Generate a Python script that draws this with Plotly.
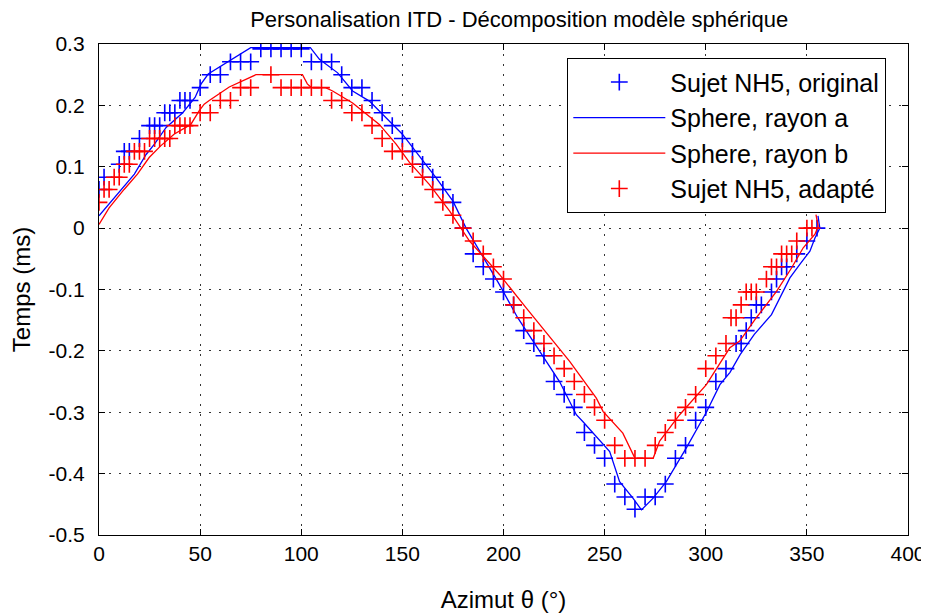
import plotly.graph_objects as go

# ---- data (azimuth in degrees, ITD in ms) ----
orig_az = [0, 2.5, 10, 12.5, 15, 20, 25, 27.5, 30, 32.5, 35, 37.5, 40, 42.5, 45,
           50, 55, 60, 65, 70, 75, 80, 85, 90, 95, 100, 105, 110, 115,
           120, 125, 130, 135, 140, 145, 150, 155, 160, 165, 170, 175, 180,
           185, 190, 195, 200, 205, 210, 215, 220, 225, 230, 235, 240, 245,
           250, 255, 260, 265, 270, 275, 280, 285, 290, 295, 300, 305, 310,
           315, 317.5, 320, 322.5, 325, 327.5, 332.5, 335, 337.5, 340, 345, 350, 355]
orig_itd = [0.063, 0.083, 0.104, 0.125, 0.125, 0.146, 0.167, 0.167, 0.167, 0.188, 0.188, 0.188, 0.208, 0.208, 0.208,
            0.229, 0.250, 0.250, 0.271, 0.271, 0.271, 0.292, 0.292, 0.292, 0.292, 0.292, 0.271, 0.271, 0.271,
            0.250, 0.229, 0.229, 0.208, 0.188, 0.167, 0.146, 0.125, 0.104, 0.083, 0.063, 0.042, 0.0,
            -0.042, -0.063, -0.083, -0.104, -0.125, -0.167, -0.188, -0.208, -0.250, -0.271, -0.292, -0.333, -0.354,
            -0.375, -0.417, -0.438, -0.458, -0.438, -0.438, -0.417, -0.375, -0.354, -0.313, -0.292, -0.250, -0.229,
            -0.188, -0.188, -0.167, -0.146, -0.125, -0.125, -0.104, -0.083, -0.063, -0.063, -0.042, -0.021, 0.0]

adapt_az = [0, 2.5, 5, 7.5, 10, 12.5, 15, 17.5, 20, 22.5, 25, 27.5, 30, 32.5, 35, 37.5, 40, 42.5, 45,
            50, 55, 60, 65, 70, 75, 85, 90, 95, 100, 105, 110, 115, 120, 125, 130,
            135, 140, 145, 150, 155, 160, 165, 170, 175, 180, 185, 190, 195, 200,
            205, 210, 215, 220, 225, 230, 235, 240, 245, 250, 255, 260, 265, 270,
            275, 280, 285, 290, 295, 300, 305, 310, 312.5, 315, 317.5, 320, 322.5, 325,
            330, 332.5, 335, 337.5, 340, 342.5, 345, 350, 352.5]
adapt_itd = [0.042, 0.063, 0.063, 0.083, 0.083, 0.104, 0.104, 0.125, 0.125, 0.125, 0.146, 0.146, 0.146, 0.146, 0.146, 0.167, 0.167, 0.167, 0.167,
             0.188, 0.188, 0.208, 0.208, 0.229, 0.229, 0.250, 0.229, 0.229, 0.229, 0.229, 0.229, 0.208, 0.208, 0.188, 0.188,
             0.167, 0.146, 0.125, 0.125, 0.104, 0.083, 0.063, 0.042, 0.021, 0.0, -0.021, -0.042, -0.063, -0.083,
             -0.125, -0.146, -0.167, -0.188, -0.208, -0.229, -0.250, -0.271, -0.292, -0.313, -0.354, -0.375, -0.375, -0.375,
             -0.354, -0.333, -0.313, -0.292, -0.271, -0.229, -0.208, -0.188, -0.146, -0.146, -0.125, -0.104, -0.104, -0.104,
             -0.083, -0.063, -0.063, -0.042, -0.042, -0.042, -0.021, 0.0, 0.0]

sphere_a_az = [0, 5, 11.7, 17.5, 23.3, 27.4, 33.2, 41.4, 47.5, 50.5, 54, 65, 75, 104.5, 107, 109,
               118, 125.4, 133.7, 150, 166.7, 175, 181.5, 191.4, 198, 207, 217.8, 227.7, 236,
               239.2, 252.5, 257.4, 264, 268.2, 274, 280.5, 290.4, 300.3, 307, 312, 317, 324,
               332.5, 336.6, 341.6, 346.5, 351.5, 354, 356.4, 355.5]
sphere_a_itd = [0.02, 0.039, 0.066, 0.088, 0.12, 0.137, 0.164, 0.188, 0.213, 0.235, 0.251, 0.273, 0.294, 0.294, 0.284, 0.275,
                0.253, 0.2235, 0.207, 0.153, 0.082, 0.044, 0.0, -0.054, -0.092, -0.146, -0.2, -0.25, -0.304,
                -0.315, -0.364, -0.413, -0.44, -0.459, -0.44, -0.413, -0.358, -0.3, -0.255, -0.235, -0.206, -0.173,
                -0.141, -0.114, -0.081, -0.059, -0.0375, -0.016, 0.0, 0.02]

sphere_b_az = [0, 5, 12.4, 19, 24.8, 30.5, 37.1, 45.4, 49.5, 52, 54.5, 64.4, 77.6, 100.6, 103, 105,
               112, 115.5, 125.4, 138.6, 146.9, 153.5, 163.4, 173.3, 183.2, 198, 211.2, 224.4,
               232.7, 245.9, 249.2, 259, 264, 265, 274, 277.2, 287.1, 300.3, 311.9, 316.8, 325,
               335, 342.4, 348.2, 354, 355.6, 354.5]
sphere_b_itd = [0.006, 0.033, 0.063, 0.088, 0.115, 0.134, 0.153, 0.169, 0.191, 0.202, 0.208, 0.23, 0.25, 0.25, 0.235, 0.229,
                0.229, 0.2235, 0.204, 0.169, 0.137, 0.107, 0.071, 0.028, -0.021, -0.0755, -0.13, -0.184,
                -0.217, -0.277, -0.2985, -0.334, -0.369, -0.375, -0.375, -0.347, -0.304, -0.255, -0.195, -0.184, -0.146,
                -0.103, -0.065, -0.032, -0.01, 0.003, 0.022]

x_ticks = [0, 50, 100, 150, 200, 250, 300, 350, 400]
x_tick_labels = ["0", "50", "100", "150", "200", "250", "300", "350", "400"]
y_ticks = [0.3, 0.2, 0.1, 0, -0.1, -0.2, -0.3, -0.4, -0.5]
y_tick_labels = ["0.3", "0.2", "0.1", "0", "-0.1", "-0.2", "-0.3", "-0.4", "-0.5"]

FONT = "Liberation Sans, Arial, Helvetica, sans-serif"
BLUE = "rgb(0,0,255)"
RED = "rgb(255,0,0)"

fig = go.Figure()

fig.add_trace(go.Scatter(
    x=orig_az, y=orig_itd, mode="markers", name="Sujet NH5, original",
    marker=dict(symbol="cross-thin", size=12, color=BLUE, line=dict(color=BLUE, width=1.6)),
    legendgroup="a", legendrank=1
))
fig.add_trace(go.Scatter(
    x=sphere_a_az, y=sphere_a_itd, mode="lines", name="Sphere, rayon a",
    line=dict(color=BLUE, width=1.3), legendgroup="b", legendrank=2
))
fig.add_trace(go.Scatter(
    x=sphere_b_az, y=sphere_b_itd, mode="lines", name="Sphere, rayon b",
    line=dict(color=RED, width=1.3), legendgroup="c", legendrank=3
))
fig.add_trace(go.Scatter(
    x=adapt_az, y=adapt_itd, mode="markers", name="Sujet NH5, adapté",
    marker=dict(symbol="cross-thin", size=12, color=RED, line=dict(color=RED, width=1.6)),
    legendgroup="d", legendrank=4
))

axis_common = dict(
    showline=True, linecolor="black", linewidth=1.3, mirror="ticks",
    ticks="inside", ticklen=6, tickcolor="black", tickwidth=1.2,
    showgrid=True, gridcolor="rgba(0,0,0,0.8)", gridwidth=1.2, griddash="2px,8px",
    zeroline=False, automargin=False,
    tickfont=dict(family=FONT, size=21, color="black"),
)

# the page body adds an 8px offset, so the figure is a bit smaller than the window
fig.update_layout(
    width=921, height=607,
    margin=dict(l=91, r=21, t=36, b=80),
    paper_bgcolor="white", plot_bgcolor="white",
    font=dict(family=FONT, size=21, color="black"),
    title=dict(text="Personalisation ITD - Décomposition modèle sphérique",
               x=0.555, xanchor="center", y=0.981, yanchor="middle",
               font=dict(family=FONT, size=22, color="black")),
    xaxis=dict(range=[0, 400], tickvals=x_ticks, ticktext=x_tick_labels,
               ticklabelstandoff=0,
               title=dict(text="Azimut θ (°)", standoff=26,
                          font=dict(family=FONT, size=24)),
               **axis_common),
    yaxis=dict(range=[-0.5, 0.3], tickvals=y_ticks, ticktext=y_tick_labels,
               ticklabelstandoff=9,
               title=dict(text="Temps (ms)", standoff=16,
                          font=dict(family=FONT, size=24)),
               **axis_common),
    showlegend=True,
    legend=dict(x=0.5785, y=0.9715, xanchor="left", yanchor="top",
                bgcolor="white", bordercolor="black", borderwidth=1.3,
                font=dict(family=FONT, size=25, color="black"),
                traceorder="grouped", tracegroupgap=0, itemwidth=92),
)

fig.write_html("out.html")
